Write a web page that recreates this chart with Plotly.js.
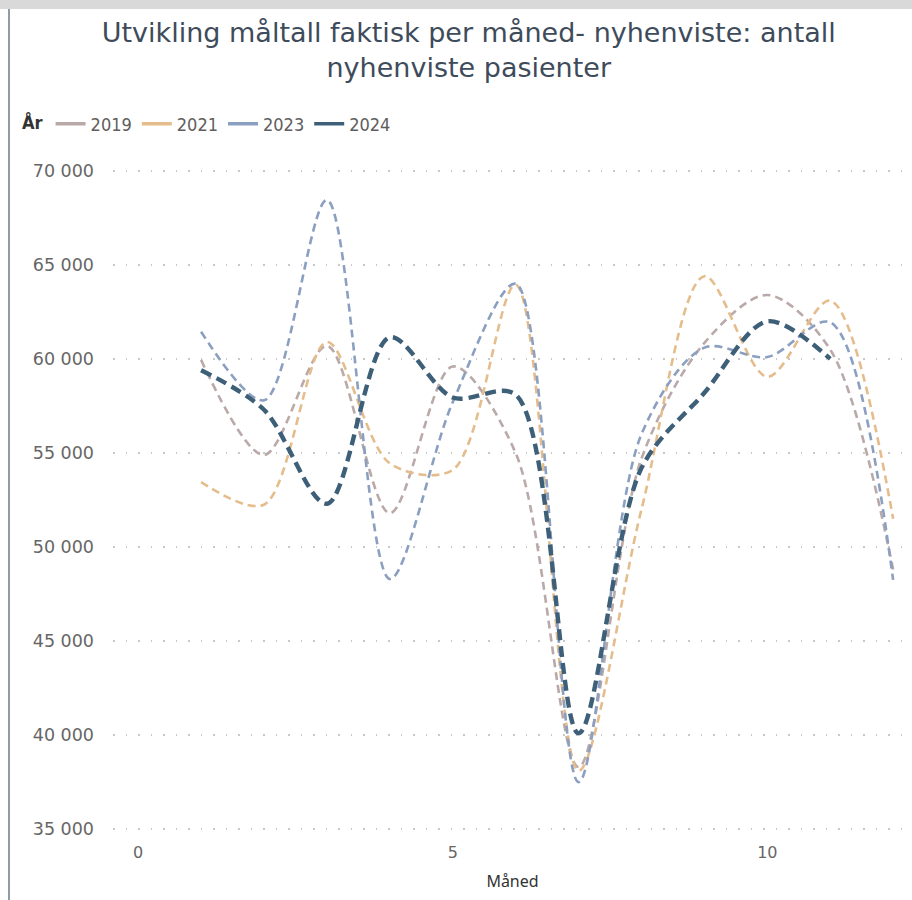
<!DOCTYPE html>
<html>
<head>
<meta charset="utf-8">
<script src="https://cdn.plot.ly/plotly-3.0.1.min.js"></script>
<style>
  html, body { margin: 0; padding: 0; background: #ffffff; }
  #frameTop { position: absolute; left: 0; top: 0; width: 912px; height: 9px; background: #d9d9d9; }
  #frameLeft { position: absolute; left: 8px; top: 9px; width: 2px; height: 891px; background: #8d9bab; }
  #chart { position: absolute; left: 0; top: 0; width: 912px; height: 900px; }
</style>
</head>
<body>
<div id="chart"></div>
<div id="frameTop"></div>
<div id="frameLeft"></div>
<script>
const months = [1, 2, 3, 4, 5, 6, 7, 8, 9, 10, 11, 12];
const months2024 = [1, 2, 3, 4, 5, 6, 7, 8, 9, 10, 11];
const seriesNames = ["2019", "2021", "2023", "2024"];
const values2019 = [59950, 54900, 60700, 51800, 59600, 55000, 38300, 54700, 60850, 63400, 60500, 48800];
const values2021 = [53450, 52250, 60900, 54450, 54100, 63950, 38100, 52000, 64400, 59050, 63100, 51500];
const values2023 = [61450, 57800, 68450, 48300, 57700, 64000, 37500, 56000, 60600, 60100, 61950, 48250];
const values2024 = [59400, 57300, 52300, 61150, 57950, 58100, 40100, 54200, 58200, 62000, 60000];
const yTickVals = [35000, 40000, 45000, 50000, 55000, 60000, 65000, 70000];
const xTickVals = [0, 5, 10];

const colors = ["#baa9a9", "#e5bd8c", "#8b9fc0", "#3e5f78"];
const widths = [2.6, 2.6, 2.6, 4.4];
const dashes = ["8px,5px", "8px,5px", "8px,5px", "11px,6px"];
const xs = [months, months, months, months2024];
const ys = [values2019, values2021, values2023, values2024];

const dataTraces = seriesNames.map((name, i) => ({
  type: "scatter",
  mode: "lines",
  name: name,
  legendgroup: name,
  showlegend: false,
  x: xs[i],
  y: ys[i],
  line: { color: colors[i], width: widths[i], dash: dashes[i], shape: "spline", smoothing: 0.9 },
  hoverinfo: "x+y+name"
}));

// legend-only entries (solid short line keys as in the reference)
const legendTraces = seriesNames.map((name, i) => ({
  type: "scatter",
  mode: "lines",
  name: name,
  legendgroup: name,
  showlegend: true,
  x: [null],
  y: [null],
  line: { color: colors[i], width: 3.5 },
  hoverinfo: "skip"
}));

const layout = {
  width: 912,
  height: 900,
  paper_bgcolor: "#ffffff",
  plot_bgcolor: "#ffffff",
  separators: ", ",
  margin: { l: 113, r: 0, t: 169, b: 69, pad: 0 },
  title: {
    text: "Utvikling måltall faktisk per måned- nyhenviste: antall<br>nyhenviste pasienter",
    font: { family: "DejaVu Sans, Noto Sans, sans-serif", size: 27, color: "#3e4b5b" },
    xref: "container", x: 0.514, xanchor: "center",
    yref: "container", y: 0.953, yanchor: "top"
  },
  showlegend: true,
  legend: {
    orientation: "h",
    xref: "container", x: 0.022, xanchor: "left",
    yref: "container", y: 1 - 124 / 900, yanchor: "middle",
    title: { text: "<b>År</b>", font: { family: "DejaVu Sans Condensed, sans-serif", size: 18, color: "#333333" }, side: "left" },
    font: { family: "DejaVu Sans Condensed, sans-serif", size: 18, color: "#605e5c" },
    itemwidth: 30,
    tracegroupgap: 0,
    bgcolor: "rgba(0,0,0,0)"
  },
  xaxis: {
    range: [-0.4, 12.3],
    tickvals: xTickVals,
    ticktext: xTickVals.map(String),
    showgrid: false,
    zeroline: false,
    showline: false,
    ticks: "",
    ticklabelstandoff: 10,
    tickfont: { family: "DejaVu Sans, Noto Sans, sans-serif", size: 16, color: "#666666" },
    title: {
      text: "Måned",
      font: { family: "Noto Sans, Open Sans, sans-serif", size: 16, color: "#333333" },
      standoff: 14
    },
    fixedrange: true
  },
  yaxis: {
    range: [34900, 70100],
    tickvals: yTickVals,
    tickformat: ",d",
    showgrid: true,
    gridcolor: "#c8c8c8",
    gridwidth: 1.5,
    griddash: "1.5px,11px",
    zeroline: false,
    showline: false,
    ticks: "",
    ticklabelstandoff: 18,
    tickfont: { family: "DejaVu Sans, Noto Sans, sans-serif", size: 17.5, color: "#666666" },
    fixedrange: true
  }
};

Plotly.newPlot("chart", dataTraces.concat(legendTraces), layout, { displayModeBar: false, staticPlot: true });
</script>
</body>
</html>
